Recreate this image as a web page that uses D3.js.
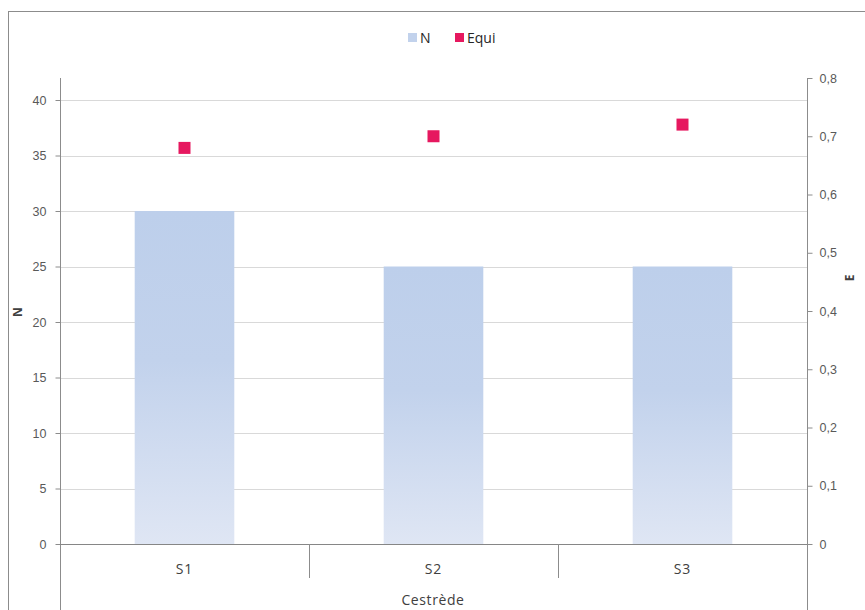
<!DOCTYPE html>
<html>
<head>
<meta charset="utf-8">
<script src="https://cdn.jsdelivr.net/npm/d3@7"></script>
<style>
  html, body { margin: 0; padding: 0; background: #fff; }
  svg { display: block; font-family: "Open Sans", "DejaVu Sans", sans-serif; }
</style>
</head>
<body>
<svg id="chart" width="865" height="610"></svg>
<script>
// Stations sampled on the Cestrède
const categories = ["S1", "S2", "S3"];
// Number of taxa (N) per station — left axis
const nValues = [30, 25, 25];
// Equitability (E) per station — right axis
const equiValues = [0.68, 0.70, 0.72];
// Tick labels
const leftTicks = [0, 5, 10, 15, 20, 25, 30, 35, 40];
const rightTicks = [0, 0.1, 0.2, 0.3, 0.4, 0.5, 0.6, 0.7, 0.8];

const svg = d3.select("#chart");

const plot = { left: 60, right: 807, top: 78, zero: 544 };

// Outer chart frame
svg.append("rect")
  .attr("x", 8.5).attr("y", 11.5)
  .attr("width", 870).attr("height", 610)
  .attr("fill", "#fff")
  .attr("stroke", "#8c8c8c").attr("stroke-width", 1);

const xBand = d3.scaleBand().domain(categories).range([plot.left, plot.right]);

const yLeft = d3.scaleLinear().domain([0, 40]).range([plot.zero, 100]);
const yRight = d3.scaleLinear().domain([0, 0.8]).range([plot.zero, plot.top]);

// Gradient for bars
const defs = svg.append("defs");
const grad = defs.append("linearGradient")
  .attr("id", "barGrad").attr("x1", 0).attr("y1", 0).attr("x2", 0).attr("y2", 1);
grad.append("stop").attr("offset", "0%").attr("stop-color", "#bdcfeb");
grad.append("stop").attr("offset", "45%").attr("stop-color", "#c2d2ec");
grad.append("stop").attr("offset", "100%").attr("stop-color", "#dfe6f4");

// Horizontal gridlines
svg.append("g")
  .selectAll("line")
  .data(leftTicks.filter(d => d > 0))
  .join("line")
  .attr("x1", plot.left).attr("x2", plot.right)
  .attr("y1", d => Math.round(yLeft(d)) + 0.5)
  .attr("y2", d => Math.round(yLeft(d)) + 0.5)
  .attr("stroke", "#d9d9d9").attr("stroke-width", 1);

// Bars (N)
svg.append("g")
  .selectAll("rect")
  .data(categories)
  .join("rect")
  .attr("x", (d) => xBand(d) + xBand.bandwidth() * 0.3)
  .attr("width", xBand.bandwidth() * 0.4)
  .attr("y", (d, i) => yLeft(nValues[i]))
  .attr("height", (d, i) => yLeft(0) - yLeft(nValues[i]))
  .attr("fill", "url(#barGrad)");

// Left axis
const leftAxis = d3.axisLeft(yLeft).tickValues(leftTicks).tickSize(5).tickSizeOuter(0)
  .tickFormat(d3.format("d"));
const gL = svg.append("g").attr("transform", `translate(${plot.left + 0.5},0)`).call(leftAxis);
gL.select(".domain").remove();
gL.selectAll(".tick line").attr("stroke", "#8c8c8c");
gL.selectAll(".tick text").attr("fill", "#595959").attr("font-size", 12.5).attr("x", -14);
svg.append("line")
  .attr("x1", plot.left + 0.5).attr("x2", plot.left + 0.5)
  .attr("y1", plot.top).attr("y2", 610)
  .attr("stroke", "#8c8c8c");

// Right axis
const fmtComma = d => d === 0 ? "0" : d3.format(".1f")(d).replace(".", ",");
const rightAxis = d3.axisRight(yRight).tickValues(rightTicks).tickSize(5).tickSizeOuter(0)
  .tickFormat(fmtComma);
const gR = svg.append("g").attr("transform", `translate(${plot.right + 0.5},0)`).call(rightAxis);
gR.select(".domain").remove();
gR.selectAll(".tick line").attr("stroke", "#8c8c8c");
gR.selectAll(".tick text").attr("fill", "#595959").attr("font-size", 12.5).attr("x", 12);
svg.append("line")
  .attr("x1", plot.right + 0.5).attr("x2", plot.right + 0.5)
  .attr("y1", plot.top).attr("y2", 610)
  .attr("stroke", "#8c8c8c");

// Category axis at zero
svg.append("line")
  .attr("x1", plot.left).attr("x2", plot.right)
  .attr("y1", plot.zero + 0.5).attr("y2", plot.zero + 0.5)
  .attr("stroke", "#868686");
svg.append("g")
  .selectAll("line")
  .data(categories.slice(1))
  .join("line")
  .attr("x1", d => Math.round(xBand(d)) + 0.5).attr("x2", d => Math.round(xBand(d)) + 0.5)
  .attr("y1", plot.zero).attr("y2", plot.zero + 34)
  .attr("stroke", "#8c8c8c");
svg.append("g")
  .selectAll("text")
  .data(categories)
  .join("text")
  .attr("x", d => xBand(d) + xBand.bandwidth() / 2)
  .attr("y", plot.zero + 30)
  .attr("text-anchor", "middle")
  .attr("fill", "#404040").attr("font-size", 14)
  .attr("letter-spacing", 1)
  .text(d => d);

// Equitability markers
const m = 12;
svg.append("g")
  .selectAll("rect")
  .data(categories)
  .join("rect")
  .attr("x", d => xBand(d) + xBand.bandwidth() / 2 - m / 2)
  .attr("y", (d, i) => yRight(equiValues[i]) - m / 2)
  .attr("width", m).attr("height", m)
  .attr("fill", "#e6185f");

// Axis titles
svg.append("text")
  .attr("transform", "translate(22,312) rotate(-90)")
  .attr("text-anchor", "middle").attr("fill", "#404040")
  .attr("font-size", 12).attr("font-weight", "bold")
  .text("N");
svg.append("text")
  .attr("transform", "translate(854,278) rotate(-90)")
  .attr("text-anchor", "middle").attr("fill", "#404040")
  .attr("font-size", 12).attr("font-weight", "bold")
  .text("E");
svg.append("text")
  .attr("x", 433).attr("y", 605)
  .attr("text-anchor", "middle").attr("fill", "#404040")
  .attr("font-size", 14).attr("letter-spacing", 0.6)
  .text("Cestrède");

// Legend
const legend = svg.append("g");
const legendItems = [
  { label: "N", color: "#c2d2ec", x: 408 },
  { label: "Equi", color: "#e6185f", x: 455 }
];
legend.selectAll("rect")
  .data(legendItems)
  .join("rect")
  .attr("x", d => d.x).attr("y", 33)
  .attr("width", 9).attr("height", 9)
  .attr("fill", d => d.color);
legend.selectAll("text")
  .data(legendItems)
  .join("text")
  .attr("x", d => d.x + 12).attr("y", 43)
  .attr("fill", "#262626").attr("font-size", 14)
  .text(d => d.label);
</script>
</body>
</html>
